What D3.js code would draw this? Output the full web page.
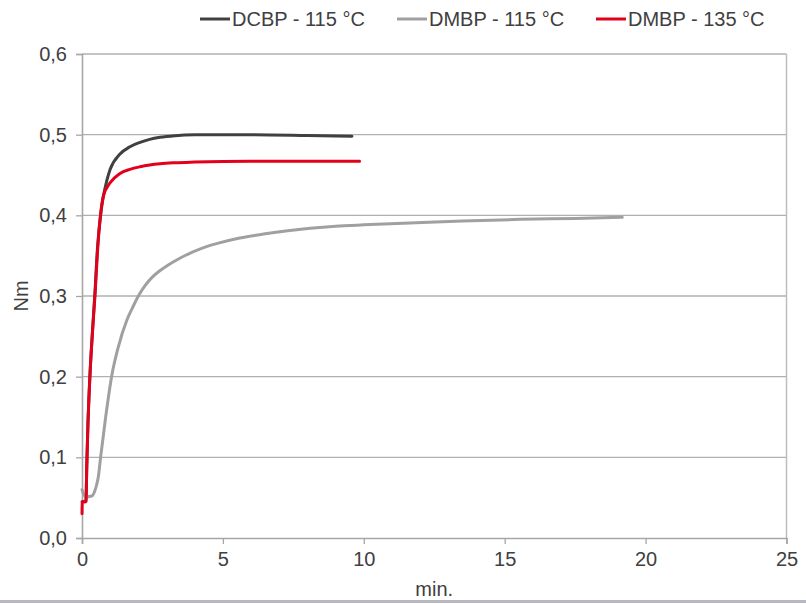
<!DOCTYPE html>
<html>
<head>
<meta charset="utf-8">
<script src="https://cdn.jsdelivr.net/npm/d3@7/dist/d3.min.js"></script>
<style>
  html, body { margin: 0; padding: 0; background: #fff; }
  svg { display: block; }
  text { font-family: "Liberation Sans", Arial, sans-serif; fill: #404040; }
</style>
</head>
<body>
<svg id="chart" width="806" height="604"></svg>
<script>
// ---- data ----
const seriesNames = ["DCBP - 115 °C", "DMBP - 115 °C", "DMBP - 135 °C"];
const seriesColors = ["#404040", "#a0a0a0", "#e2001a"];

// DCBP - 115 °C : [min, Nm]
const dcbp115 = [
  [0, 0.045], [0.1, 0.045], [0.14, 0.046], [0.17, 0.09], [0.21, 0.14], [0.28, 0.2],
  [0.37, 0.255], [0.46, 0.305], [0.55, 0.36], [0.66, 0.40], [0.75, 0.422], [0.88, 0.443],
  [1.0, 0.457], [1.35, 0.476], [1.7, 0.485], [2.06, 0.4905], [2.4, 0.4942], [2.77, 0.4968],
  [3.3, 0.4988], [4.0, 0.4998], [6.0, 0.5], [8.0, 0.499], [9.58, 0.498]
];
// DMBP - 115 °C
const dmbp115 = [
  [0, 0.06], [0.05, 0.055], [0.15, 0.051], [0.35, 0.052], [0.45, 0.058], [0.52, 0.066],
  [0.58, 0.076], [0.66, 0.1], [0.84, 0.15], [1.05, 0.2], [1.29, 0.237], [1.59, 0.27],
  [1.8, 0.286], [2.0, 0.3], [2.25, 0.3135], [2.47, 0.3225], [2.75, 0.331], [3.06, 0.3385],
  [3.36, 0.3447], [3.66, 0.3502], [4.2, 0.3585], [4.84, 0.3655], [5.6, 0.3718], [6.5, 0.3772],
  [7.3, 0.381], [8.1, 0.384], [9.0, 0.3865], [10.0, 0.3882], [11.65, 0.3905], [13.5, 0.393],
  [15.55, 0.395], [17.5, 0.3962], [19.17, 0.3975]
];
// DMBP - 135 °C
const dmbp135 = [
  [0, 0.03], [0.01, 0.045], [0.14, 0.045], [0.17, 0.09], [0.21, 0.14], [0.28, 0.2],
  [0.37, 0.255], [0.46, 0.3], [0.55, 0.355], [0.64, 0.395], [0.7, 0.413], [0.76, 0.424],
  [0.99, 0.44], [1.35, 0.452], [1.7, 0.457], [2.06, 0.4602], [2.4, 0.4624], [2.77, 0.464],
  [3.3, 0.4652], [4.0, 0.466], [6.0, 0.467], [9.85, 0.467]
];
const seriesData = [dcbp115, dmbp115, dmbp135];

const xTicks = [0, 5, 10, 15, 20, 25];
const yTicks = [0, 0.1, 0.2, 0.3, 0.4, 0.5, 0.6];
const xLabel = "min.";
const yLabel = "Nm";

// ---- layout ----
const svg = d3.select("#chart");
const pL = 82, pR = 786.5, pT = 54, pB = 538;
const FS = 20;

const x = d3.scaleLinear().domain([0, 25]).range([pL, pR]);
const y = d3.scaleLinear().domain([0, 0.6]).range([pB, pT]);
const fmt = v => d3.format(".1f")(v).replace(".", ",");

// gridlines
svg.append("g")
  .selectAll("line")
  .data(yTicks.filter(d => d > 0))
  .join("line")
  .attr("x1", pL).attr("x2", pR)
  .attr("y1", d => y(d)).attr("y2", d => y(d))
  .attr("stroke", "#b0b0b0").attr("stroke-width", 1.3);

// right border
svg.append("line")
  .attr("x1", pR).attr("x2", pR)
  .attr("y1", pT).attr("y2", pB)
  .attr("stroke", "#bdbdbd").attr("stroke-width", 1.5);

// y axis
const yAxis = svg.append("g")
  .attr("transform", `translate(${pL},0)`)
  .call(d3.axisLeft(y).tickValues(yTicks).tickFormat(fmt).tickSize(6).tickPadding(9));
yAxis.select(".domain").attr("stroke", "#a6a6a6").attr("stroke-width", 1.6);
yAxis.selectAll(".tick line").attr("stroke", "#a6a6a6").attr("stroke-width", 1.3);
yAxis.selectAll(".tick text").attr("font-size", FS).attr("fill", "#404040")
  .style("font-family", "'Liberation Sans', Arial, sans-serif");

// x axis
const xAxis = svg.append("g")
  .attr("transform", `translate(0,${pB})`)
  .call(d3.axisBottom(x).tickValues(xTicks).tickFormat(d3.format("d")).tickSize(6).tickPadding(8));
xAxis.select(".domain").attr("stroke", "#a6a6a6").attr("stroke-width", 1.6);
xAxis.selectAll(".tick line").attr("stroke", "#a6a6a6").attr("stroke-width", 1.3);
xAxis.selectAll(".tick text").attr("font-size", FS).attr("fill", "#404040")
  .style("font-family", "'Liberation Sans', Arial, sans-serif");

// axis titles
svg.append("text")
  .attr("x", (pL + pR) / 2).attr("y", 596)
  .attr("text-anchor", "middle").attr("font-size", FS)
  .text(xLabel);
svg.append("text")
  .attr("transform", `translate(28,${(pT + pB) / 2}) rotate(-90)`)
  .attr("text-anchor", "middle").attr("font-size", FS)
  .text(yLabel);

// lines
const line = d3.line()
  .x(d => x(d[0])).y(d => y(d[1]))
  .curve(d3.curveMonotoneX);

svg.append("g")
  .selectAll("path")
  .data(seriesData)
  .join("path")
  .attr("d", d => line(d))
  .attr("fill", "none")
  .attr("stroke", (d, i) => seriesColors[i])
  .attr("stroke-width", 3)
  .attr("stroke-linejoin", "round")
  .attr("stroke-linecap", "round");

// legend
const legendX = [200, 397, 596];
const lg = svg.append("g");
seriesNames.forEach((name, i) => {
  lg.append("line")
    .attr("x1", legendX[i]).attr("x2", legendX[i] + 30)
    .attr("y1", 19).attr("y2", 19)
    .attr("stroke", seriesColors[i]).attr("stroke-width", 3);
  lg.append("text")
    .attr("x", legendX[i] + 32).attr("y", 26)
    .attr("font-size", FS)
    .text(name);
});

// bottom strip
svg.append("rect")
  .attr("x", 0).attr("y", 600).attr("width", 806).attr("height", 3)
  .attr("fill", "#b7b7c6");
</script>
</body>
</html>
